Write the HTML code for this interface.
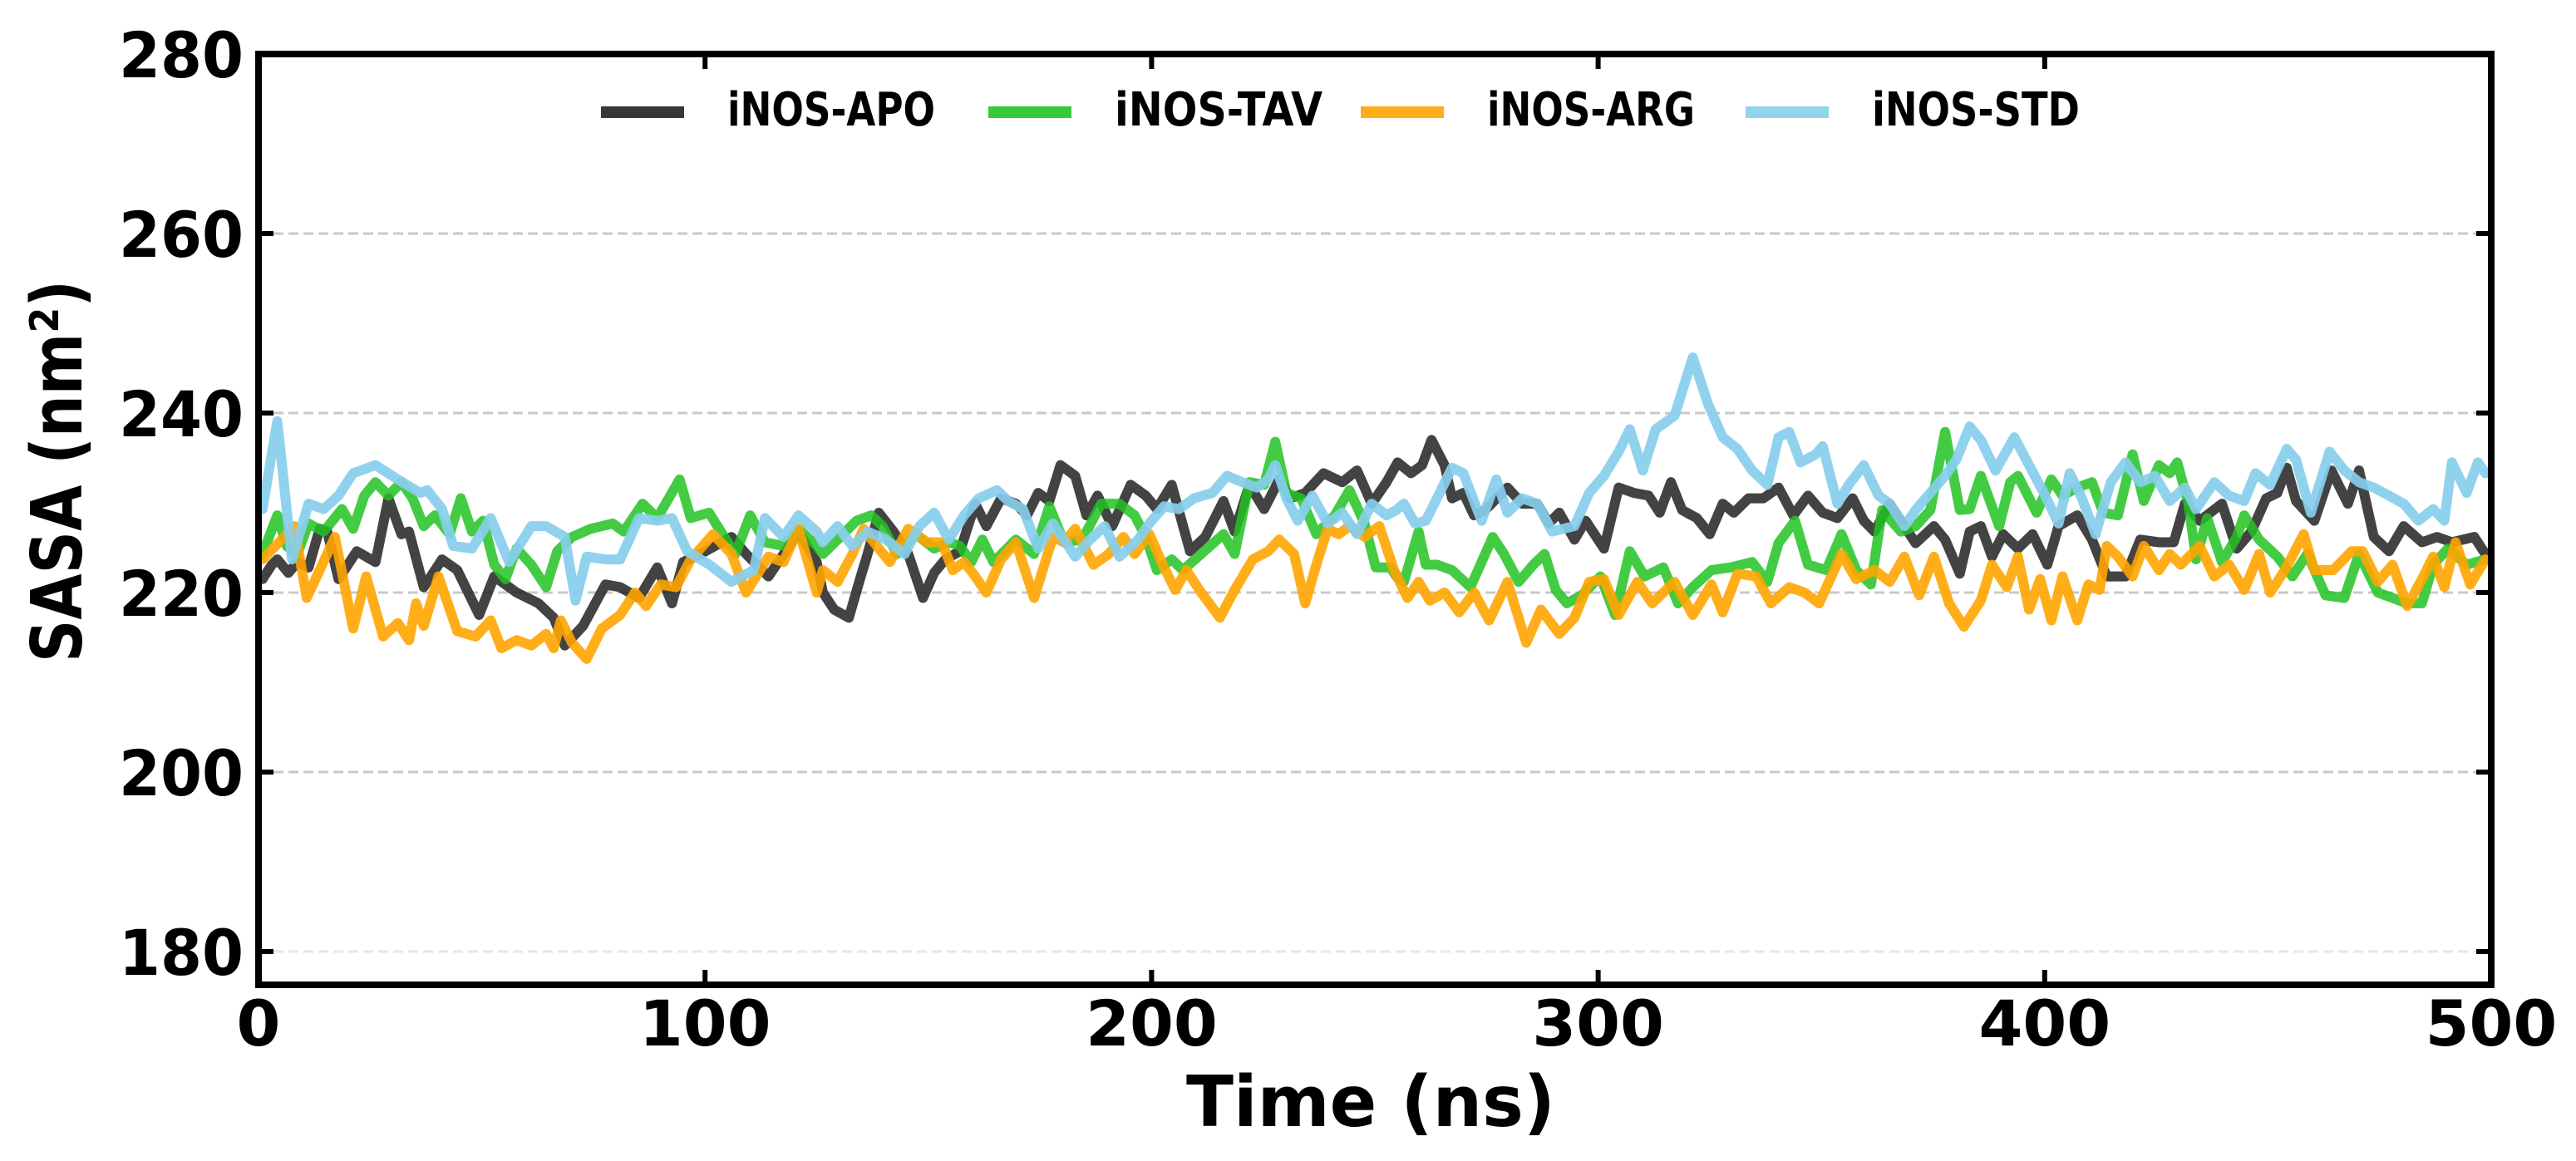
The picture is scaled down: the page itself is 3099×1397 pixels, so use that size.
<!DOCTYPE html>
<html><head><meta charset="utf-8"><title>SASA vs Time</title>
<style>
html,body{margin:0;padding:0;background:#fff;}
svg{display:block;}
text{font-family:"DejaVu Sans","Liberation Sans",sans-serif;font-weight:bold;fill:#000;}
</style></head>
<body>
<svg id="chart" width="3099" height="1397" viewBox="0 0 3099 1397" xmlns="http://www.w3.org/2000/svg">
<g id="grid"></g>
<g id="series"></g>
<g id="axes"></g>
<g id="legend"></g>
<text x="1649" y="1355" font-size="85" text-anchor="middle" textLength="444" lengthAdjust="spacingAndGlyphs">Time (ns)</text>
<text transform="translate(98,567) rotate(-90)" font-size="85" text-anchor="middle" textLength="460" lengthAdjust="spacingAndGlyphs">SASA (nm²)</text>
</svg>
<script>
const xTicks = [0, 100, 200, 300, 400, 500];
const yTicks = [180, 200, 220, 240, 260, 280];
const seriesNames = ["iNOS-APO", "iNOS-TAV", "iNOS-ARG", "iNOS-STD"];

const apoT = [0.9,3,4.2,6.7,8.7,11.2,13.7,15.4,17.9,22,26.2,29.1,32,33.7,37,41.1,44.5,49.4,52.8,57.8,62.7,66.1,68.6,72.7,77.7,81,85.2,89.3,92.6,95.1,100.1,105.9,109.2,114.2,117.6,120.9,125,126.4,128.9,132.2,134.7,136.4,138.9,142.2,145.5,148.8,151.3,153.8,157.1,160.5,163,166.3,169.6,172.1,174.6,177.1,179.6,182.9,185.4,187.9,191.2,195.3,198.7,201.2,204.5,208.6,212,216.1,218.6,221.9,225.2,228.6,231.1,234.4,238.5,242.7,246,249.3,252.6,255.1,258.1,260.6,262.7,265.6,267.3,269.8,272.2,274.7,279.7,283,286.4,288.9,291.3,294.7,297.2,301.3,304.6,308,311.3,313.8,316.3,318.8,322.1,325,327.9,330.4,333.7,337,340.4,343.7,347,350.3,353.6,357,359.5,361.9,365.3,367.8,371.1,375.2,377.7,381,383.2,385.7,388.2,390.7,394,397.3,400.6,403.1,407.3,410.6,413.9,418.1,421.4,425.6,428.9,431.4,434.7,439.7,443,446.3,449.6,452.1,454.2,456.3,460.4,464.2,467.9,470.4,473.7,477.1,480.4,484.5,487.9,491.2,496.2,498.7];
const apoV = [221.5,223.1,223.7,222.2,223.4,222.8,227.1,226.8,221.5,224.6,223.4,230.5,226.5,226.8,220.6,223.7,222.5,217.5,221.8,220,218.8,217.2,214.1,216.3,220.9,220.6,219.4,222.8,218.8,223.4,224.6,226.2,224.3,221.8,224.3,226.8,223.4,220,218.1,217.2,221.5,224.3,228.9,226.8,224.3,219.4,222.2,223.7,224.6,229.9,227.4,230.5,229.9,228.6,231.1,230.2,234.2,233,228.6,230.8,227.4,232,230.8,229.3,232,224.6,226.2,230.2,226.8,232,229.3,232.6,230.5,231.1,233.3,232.3,233.6,229.9,232.3,234.5,233.3,234.2,237,234.2,230.5,231.1,228.6,229.2,231.7,229.9,229.9,227.7,228.9,225.9,228,224.9,231.7,231.1,230.8,228.9,232.3,229.2,228.3,226.5,229.9,228.9,230.5,230.5,231.7,228.6,230.8,228.9,228.3,230.5,228,226.8,229.9,228,225.5,227.4,225.9,222.1,226.8,227.4,224,226.5,224.9,226.5,223.1,227.4,228.6,225.9,221.8,221.8,225.9,225.6,225.6,229.9,228,229.9,224.9,226.8,230.5,231.1,233.9,230.2,228,233.6,229.9,233.6,226.2,224.6,227.4,225.6,226.2,225.6,226.2,224.3];

const tavT = [0.9,4.2,6.3,8.7,11.2,14.6,18.7,21.2,23.7,26.2,29.1,32,34.5,37,39.5,42.8,45.3,47.8,50.3,52.8,55.3,57.8,61.1,64.4,66.9,70.2,74.4,79.3,81.8,86,89.3,94.3,96.8,100.9,104.3,106.8,110.1,113.4,117.6,120.9,125,126.4,129.7,133.9,137.2,139.7,143,147.2,151.3,154.6,157.1,159.6,162.1,164.6,169.6,173.7,177.1,180.4,184.5,188.7,192.8,196.2,198.7,201.2,204.5,207,211.1,216.1,218.6,221.9,225.2,227.7,230.2,233.5,236.9,241,244.3,247.7,250.2,253.5,254.8,256.5,259.8,261.4,263.9,267.3,271.4,276.4,278.9,282.2,285.5,288,290.5,293,296.3,300.5,303.8,307.1,310.4,314.6,317.9,321.2,325.4,329.6,334.5,337.9,340.4,344.1,347,351.1,354.5,357.8,361.1,363.6,367.8,371.1,374.4,377.7,381,383.2,385.7,389.8,392.3,394,398.2,401.5,404,407.3,410.6,413.1,416.4,419.7,422.2,425.6,428,429.7,432.2,433.9,436.4,439.7,443,444.7,448,452.1,455.5,458.8,462.9,467.1,470.4,474.6,477.9,481.2,484.5,487,490.3,494.5,498.7];
const tavV = [224.3,228.6,225.2,224.3,227.7,226.8,229.3,227.1,230.8,232.3,230.8,232.3,230.5,227.4,228.6,226.5,230.5,226.8,228,223.1,221.5,224.9,223.1,220.6,224.6,226.2,227.1,227.7,226.8,229.9,228.3,232.6,228.3,228.9,226.2,224.3,228.6,225.6,225.2,227.1,225.2,224.3,225.9,228,228.6,227.4,224.3,226.5,224.9,225.6,225.2,223.4,225.9,223.4,225.9,224.3,229.6,225.6,225.9,229.9,229.9,228.6,226.2,222.5,223.7,222.5,224.3,226.5,224.3,232.3,232,236.8,231.1,230.5,226.5,228.6,231.4,227.7,222.8,222.8,221.8,221.2,226.8,223.1,223.1,222.5,220.6,226.2,224.3,221.2,223.1,224.3,220.3,218.8,219.7,221.8,217.5,224.6,221.8,222.8,218.8,220.6,222.5,222.8,223.4,221.2,225.5,228,223.1,222.5,226.5,222.5,220.9,229.2,226.8,227.4,229.2,237.9,229.2,229.3,233,227.4,232.3,233,228.9,232.6,230.8,231.7,232.3,228.9,228.6,235.4,230.2,234.2,233.3,234.5,229.9,223.7,228.3,223.4,226.2,228.6,225.9,224,221.8,224.3,219.7,219.4,224.3,220,219.4,218.8,218.8,223.1,224.9,223.1,223.7];

const argT = [0.9,4.6,8,10.8,13.7,17.1,21.2,24.1,27.9,31.2,33.7,35.3,37,40.3,44.5,48.6,52,54.4,57.8,61.1,64.4,66.1,67.7,70.2,73.5,76.9,81,84.3,86.8,90.1,93.5,96.8,101.8,105.9,109.2,114.2,117.6,120.9,125,126.4,129.7,133,135.5,138.9,141.4,145.5,149.7,153,155.5,158,160.5,163,166.3,169.6,173.7,177.9,180.4,182.9,187,190.4,193.7,196.2,199.5,202.8,205.3,207.8,211.1,215.3,218.6,222.7,226.1,228.6,231.9,234.4,236.9,239.4,241.9,244.3,247.7,251,254.3,257.3,259.8,262.3,265.6,268.9,272.2,275.6,279.7,283.9,287.2,291.3,294.7,298,301.3,304.6,308.8,312.1,317.1,321.2,325.4,327.9,331.2,335.4,338.7,342.8,346.2,349.5,354.5,357.8,361.9,365.3,368.6,371.9,375.2,378.6,381.9,385.7,388.2,391.5,394,396.5,399,401.5,404,407.3,409.8,412.3,413.9,416.4,419.7,422.2,425.6,428,430.5,434.7,438,441.3,444.7,448,450.5,453.8,458,460.4,464.6,468.7,471.2,474.6,477.9,481.2,484.5,487,489.5,492,495.3,498.7];
const argV = [223.7,225.6,227.4,219.4,222.5,226.2,216,221.8,215.1,216.6,214.7,218.8,216.3,221.8,215.7,215.1,216.9,213.8,214.7,214.1,215.4,213.8,216.9,214.4,212.6,216,217.5,220,218.5,220.9,220.6,223.7,226.5,224.3,220,224,223.4,227.1,220,222.5,221.2,224.3,227.1,224.9,223.4,227.1,225.6,225.6,222.5,223.4,221.8,220,223.7,225.6,219.4,226.2,225.6,227.1,223.1,224.3,226.2,224.3,226.5,222.8,220.3,222.5,220,217.2,220.3,223.7,224.6,225.9,224.3,218.8,223.1,227.1,226.5,227.4,226.2,227.4,222.5,219.4,221.2,219.1,220,217.8,220,216.9,221.2,214.4,218.1,215.4,217.2,221.2,221.5,217.5,221.2,218.8,221.2,217.5,220.9,217.8,222.1,221.8,218.8,220.6,220,218.8,224.3,221.5,222.5,221.2,224,219.7,224,218.8,216.2,219.1,223.1,220.6,224,218.1,221.5,216.9,221.8,216.9,220.9,220.3,225.2,224,221.8,225.2,222.5,224.3,223.1,225.2,221.8,223.1,220.3,224.3,220,222.5,226.5,222.5,222.5,224.6,224.6,221.2,223.1,218.5,221.5,224,220.6,225.6,220.9,223.7];

const stdT = [0.9,4.2,7.5,11.2,14.6,17.9,21.2,26.2,31.2,36.2,37.8,41.1,43.6,47.8,52,56.1,61.1,64.4,68.6,71,73.5,77.7,81,85.2,89.3,92.6,96,101,105.9,110.9,113.4,117.6,120.9,125,126.4,129.7,133,136.4,140.5,144.7,148,151.3,154.6,158,161.3,165.4,167.9,171.2,174.6,177.9,182.9,186.2,189.5,192.8,197,199.5,202.8,206.1,209.5,213.6,216.9,220.3,223.6,226.1,227.7,230.2,232.7,236,239.4,242.7,246,249.3,252.6,254.8,256.5,259,261.4,264.8,267.3,269.8,273.9,277.2,279.7,283,286.4,289.7,294.7,298,301.3,304.6,307.1,310,312.9,317.1,321.2,324.6,327.9,331.2,334.5,337.9,340.4,342.8,345.3,348.7,350.3,353.6,356.1,359.5,362.8,365.3,368.6,371.1,374.4,377.7,380.2,383.2,385.7,389,393.2,396.5,399.8,403.1,405.6,408.1,411.4,414.8,418.1,421.4,424.7,428,431.4,433.9,438,441.3,444.7,447.2,450.5,454.2,456.3,459.6,463.8,467.1,470.4,473.7,477.1,480.4,483.7,487,489.5,491.2,494.5,497,498.7];
const stdV = [229.3,239.1,223.7,229.9,229.3,230.8,233.3,234.2,232.6,231.1,231.4,229.3,225.2,224.9,228.3,223.4,227.4,227.4,226.2,219.1,224,223.7,223.7,228.3,228,228.3,224.6,223.1,221.2,222.5,228.3,226.2,228.6,226.8,225.6,227.4,225.2,226.8,225.9,224.3,227.4,228.9,225.9,228.6,230.5,231.4,230.2,229.3,224.9,227.7,224,225.9,227.4,224,225.9,227.7,229.6,229.3,230.5,231.1,233,232.3,231.7,232.6,234.2,230.5,228,230.8,227.7,228.9,226.5,229.9,228.6,229.2,229.9,227.7,228,231.4,233.9,233.3,228,232.6,228.9,230.5,229.9,226.8,227.4,231.1,233,235.7,238.2,233.6,238.2,239.7,246.2,241,237.3,236,233.6,232,237.3,237.9,234.5,235.4,236.3,229.9,232,234.2,230.8,229.9,227.4,229.2,231.1,233,234.8,238.5,237,233.6,237.3,234.2,231.1,227.7,233.3,230.8,226.5,232.3,234.5,232.3,233,230.2,231.7,229.3,232.3,230.8,230.2,233.3,232,236,234.8,228.9,235.7,233.6,232.3,231.7,230.8,229.9,228,229.3,228,234.5,231.1,234.5,233.3];

const X0 = 311, X1 = 2997, Y0 = 65, Y1 = 1185;
const xMin = 0, xMax = 500, yMin = 176.3, yMax = 280;
function xs(t){ return X0 + (t - xMin) / (xMax - xMin) * (X1 - X0); }
function ys(v){ return Y1 - (v - yMin) / (yMax - yMin) * (Y1 - Y0); }
const NS = "http://www.w3.org/2000/svg";
function mk(tag, attrs, parent){ const e = document.createElementNS(NS, tag); for (const k in attrs) e.setAttribute(k, attrs[k]); parent.appendChild(e); return e; }

const grid = document.getElementById('grid');
yTicks.forEach(v => {
  if (v >= yMax) return;
  const l = mk('line', {x1: X0, x2: X1, y1: ys(v), y2: ys(v), stroke: v === 180 ? '#e6e6e6' : '#c8c8c8', 'stroke-width': 3, 'stroke-dasharray': '12 6'}, grid);
  
  
});

const seriesG = document.getElementById('series');
const seriesData = [[apoT, apoV, '#222222', 0.85], [tavT, tavV, '#22c322', 0.85], [argT, argV, '#ffa500', 0.9], [stdT, stdV, '#87ceeb', 0.92]];
const seriesKeys = ['line-inos-apo', 'line-inos-tav', 'line-inos-arg', 'line-inos-std'];
seriesData.forEach((s, i) => {
  const pts = s[0].map((t, j) => xs(t).toFixed(1) + ',' + ys(s[1][j]).toFixed(1)).join(' ');
  const p = mk('polyline', {points: pts, fill: 'none', stroke: s[2], 'stroke-opacity': s[3], 'stroke-width': 12, 'stroke-linejoin': 'round', 'stroke-linecap': 'round'}, seriesG);
  
  
});

const axes = document.getElementById('axes');
const frame = mk('rect', {x: X0, y: Y0, width: X1 - X0, height: Y1 - Y0, fill: 'none', stroke: '#000', 'stroke-width': 8}, axes);


xTicks.forEach(t => {
  const x = xs(t);
  const tb = mk('line', {x1: x, x2: x, y1: Y1, y2: Y1 - 18, stroke: '#000', 'stroke-width': 6}, axes);
  
  
  const tt = mk('line', {x1: x, x2: x, y1: Y0, y2: Y0 + 18, stroke: '#000', 'stroke-width': 6}, axes);
  
  
  const lb = mk('text', {x: x, y: 1258, 'font-size': 76, 'text-anchor': 'middle'}, axes);
  lb.textContent = String(t);
  
  
});
yTicks.forEach(v => {
  const y = ys(v);
  const tl = mk('line', {x1: X0, x2: X0 + 18, y1: y, y2: y, stroke: '#000', 'stroke-width': 6}, axes);
  
  
  const tr = mk('line', {x1: X1, x2: X1 - 18, y1: y, y2: y, stroke: '#000', 'stroke-width': 6}, axes);
  
  
  const lb = mk('text', {x: 293, y: y + 28, 'font-size': 76, 'text-anchor': 'end', textLength: 150, lengthAdjust: 'spacingAndGlyphs'}, axes);
  lb.textContent = String(v);
  
  
});

const legend = document.getElementById('legend');
const legX = [723, 1189, 1637, 2100];
const legColors = ['#222222', '#22c322', '#ffa500', '#87ceeb'];
const legKeys = ['legend-entry-apo', 'legend-entry-tav', 'legend-entry-arg', 'legend-entry-std'];
seriesNames.forEach((n, i) => {
  const g = mk('g', {}, legend);
  
  
  mk('line', {x1: legX[i], x2: legX[i] + 100, y1: 135, y2: 135, stroke: legColors[i], 'stroke-width': 14, 'stroke-opacity': 0.9}, g);
  const t = mk('text', {x: legX[i] + 152, y: 151, 'font-size': 56, textLength: 250, lengthAdjust: 'spacingAndGlyphs'}, g);
  t.textContent = n;
});
</script>
</body></html>
